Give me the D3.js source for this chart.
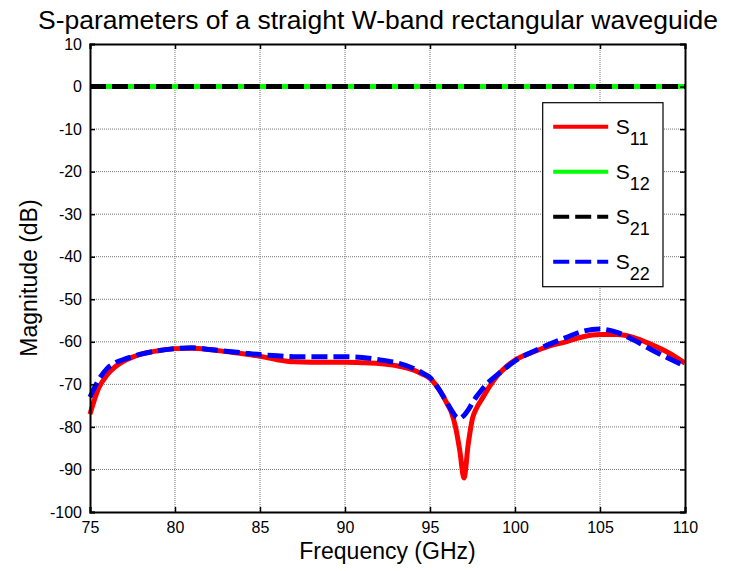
<!DOCTYPE html>
<html>
<head>
<meta charset="utf-8">
<script src="https://cdn.jsdelivr.net/npm/d3@7"></script>
<style>
  body { margin: 0; background: #fff; }
  text { font-family: Arial, "Liberation Sans", Helvetica, sans-serif; fill: #000; }
</style>
</head>
<body>
<script>
// frequency points (GHz)
var freq = [75, 75.5, 76, 76.5, 77, 77.5, 78, 79, 80, 81, 82, 83, 84, 85, 86, 87, 88, 89, 90, 91, 92, 93, 94, 94.5,
            95, 95.5, 96, 96.25, 96.5, 96.75, 97, 97.25, 97.5, 97.75, 98, 98.5, 99, 99.5, 100,
            101, 102, 103, 104, 105, 106, 107, 108, 109, 110];

// magnitudes in dB
var s11 = [-77, -71, -67.8, -65.8, -64.5, -63.6, -62.9, -62.1, -61.6, -61.5, -61.8, -62.3, -62.8, -63.4, -64.2, -64.7,
           -64.8, -64.8, -64.8, -64.9, -65.1, -65.6, -66.6, -67.5,
           -68.6, -71, -74.5, -76.5, -80, -85.5, -92, -84, -78, -75.5, -73.8, -70.5, -67.8, -65.8, -64.3,
           -62.5, -61, -60, -58.8, -58.3, -58.3, -59, -60.6, -62.5, -65];
var s22 = [-73, -69, -66.3, -64.9, -64.1, -63.5, -62.9, -62.1, -61.6, -61.4, -61.8, -62.2, -62.6, -63, -63.3, -63.5,
           -63.5, -63.5, -63.5, -63.7, -64.2, -64.9, -66.2, -67.2,
           -68.4, -71, -74.3, -76, -77.5, -78, -77.3, -76, -74.3, -72.8, -71.5, -69.3, -67.6, -66, -64.5,
           -62.4, -60.6, -59, -57.5, -57, -57.8, -59.6, -61.8, -63.8, -65.7];
var s12 = freq.map(function(){ return 0; });
var s21 = freq.map(function(){ return 0; });

var xTicks = [75, 80, 85, 90, 95, 100, 105, 110];
var yTicks = [10, 0, -10, -20, -30, -40, -50, -60, -70, -80, -90, -100];

var seriesNames = ["11", "12", "21", "22"];
var seriesColors = ["#ff0000", "#00ff00", "#000000", "#0000ff"];
var seriesDash = [null, null, "16,6", "16,6"];
var seriesData = [s11, s12, s21, s22];

var plot = {
    margin: {top: 44, right: 54, bottom: 59, left: 90},

    draw: function(){
        var W = 739, H = 571;
        var m = this.margin;
        var width = W - m.left - m.right,
            height = H - m.top - m.bottom;

        var svg = d3.select("body").append("svg")
            .attr("width", W)
            .attr("height", H);

        var g = svg.append("g")
            .attr("transform", "translate(" + m.left + "," + m.top + ")");

        var x = d3.scaleLinear().domain([75, 110]).range([0, width]);
        var y = d3.scaleLinear().domain([-100, 10]).range([height, 0]);

        // plain hyphen for negatives, like the original
        var fmt = function(d){ return String(d); };

        // grid
        g.selectAll(".vgrid").data(xTicks.slice(1, -1)).enter().append("line")
            .attr("x1", function(d){ return x(d); }).attr("x2", function(d){ return x(d); })
            .attr("y1", 0).attr("y2", height)
            .attr("stroke", "#777").attr("stroke-width", 1).attr("stroke-dasharray", "1,1");
        g.selectAll(".hgrid").data(yTicks.slice(1, -1)).enter().append("line")
            .attr("y1", function(d){ return y(d); }).attr("y2", function(d){ return y(d); })
            .attr("x1", 0).attr("x2", width)
            .attr("stroke", "#777").attr("stroke-width", 1).attr("stroke-dasharray", "1,1");

        // curves
        var line = d3.line()
            .x(function(d){ return x(d[0]); })
            .y(function(d){ return y(d[1]); })
            .curve(d3.curveMonotoneX);

        for(var i = 0; i < seriesData.length; i++){
            var pts = freq.map(function(f, j){ return [f, seriesData[i][j]]; });
            var p = g.append("path")
                .datum(pts)
                .attr("d", line)
                .attr("fill", "none")
                .attr("stroke", seriesColors[i])
                .attr("stroke-width", 5)
                .attr("stroke-linejoin", "round");
            if(seriesDash[i]) p.attr("stroke-dasharray", seriesDash[i]);
        }

        // axes (box with inward ticks)
        var axL = g.append("g").call(d3.axisLeft(y).tickValues(yTicks).tickSize(-5).tickPadding(8).tickFormat(fmt));
        var axR = g.append("g").attr("transform", "translate(" + width + ",0)")
            .call(d3.axisRight(y).tickValues(yTicks).tickSize(-5).tickFormat(""));
        var axB = g.append("g").attr("transform", "translate(0," + height + ")")
            .call(d3.axisBottom(x).tickValues(xTicks).tickSize(-5).tickPadding(10).tickFormat(fmt));
        var axT = g.append("g")
            .call(d3.axisTop(x).tickValues(xTicks).tickSize(-5).tickFormat(""));
        [axL, axR, axB, axT].forEach(function(a){
            a.select(".domain").attr("stroke", "#000").attr("stroke-width", 2);
            a.selectAll(".tick line").attr("stroke", "#000").attr("stroke-width", 1.5);
            a.selectAll("text")
                .style("font-family", "Arial, 'Liberation Sans', sans-serif")
                .style("font-size", "16px")
                .attr("fill", "#000");
        });

        // legend
        var lg = g.append("g").attr("transform", "translate(" + (542.7 - m.left) + "," + (102.7 - m.top) + ")");
        lg.append("rect")
            .attr("width", 120.3).attr("height", 184)
            .attr("fill", "#fff").attr("stroke", "#000").attr("stroke-width", 1.2);
        for(var k = 0; k < seriesNames.length; k++){
            var ly = 24 + k * 45;
            var ll = lg.append("line")
                .attr("x1", 10.5).attr("x2", 65.5)
                .attr("y1", ly).attr("y2", ly)
                .attr("stroke", seriesColors[k]).attr("stroke-width", 4);
            if(seriesDash[k]) ll.attr("stroke-dasharray", "16,6");
            var t = lg.append("text")
                .attr("x", 73).attr("y", ly + 7)
                .style("font-size", "21px");
            t.append("tspan").text("S");
            t.append("tspan").attr("dy", 11).style("font-size", "18px").text(seriesNames[k]);
        }

        // title and labels
        svg.append("text")
            .attr("x", 378).attr("y", 29)
            .attr("text-anchor", "middle")
            .style("font-size", "26.5px")
            .text("S-parameters of a straight W-band rectangular waveguide");
        svg.append("text")
            .attr("x", m.left + width / 2).attr("y", 559)
            .attr("text-anchor", "middle")
            .style("font-size", "23px")
            .text("Frequency (GHz)");
        svg.append("text")
            .attr("transform", "translate(37,278) rotate(-90)")
            .attr("text-anchor", "middle")
            .style("font-size", "23px")
            .text("Magnitude (dB)");
    }
};

plot.draw();
</script>
</body>
</html>
